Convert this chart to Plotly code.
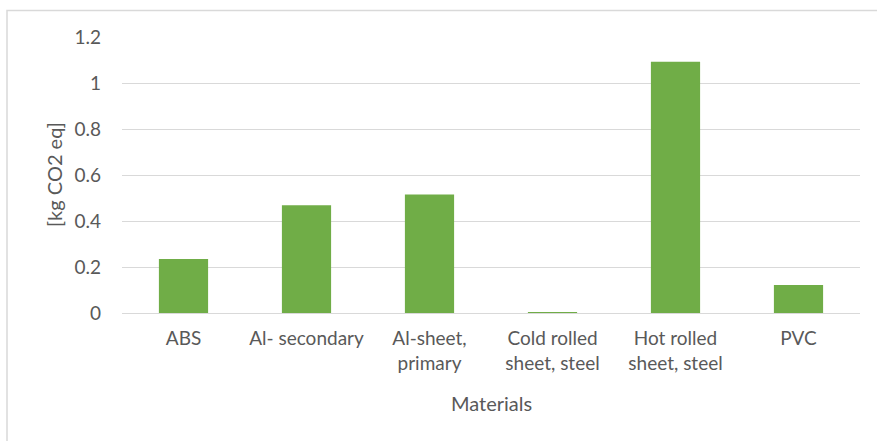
import plotly.graph_objects as go

categories = ["ABS", "Al- secondary", "Al-sheet,<br>primary", "Cold rolled<br>sheet, steel",
              "Hot rolled<br>sheet, steel", "PVC"]
values = [0.235, 0.468, 0.515, 0.004, 1.092, 0.122]
y_ticks = [0, 0.2, 0.4, 0.6, 0.8, 1, 1.2]
y_tick_labels = ["0", "0.2", "0.4", "0.6", "0.8", "1", "1.2"]

W, H = 877, 441
L, R, T, B = 122, 17, 36.5, 128
pw, ph = W - L - R, H - T - B

FONT = "Lato"
GRAY = "#595959"
FS = 19

fig = go.Figure(go.Bar(x=categories, y=values, marker_color="#70AD47",
                       marker_line_width=0))

fig.update_layout(
    width=W, height=H,
    margin=dict(l=L, r=R, t=T, b=B, autoexpand=False),
    paper_bgcolor="white", plot_bgcolor="white",
    bargap=0.6, showlegend=False,
    font=dict(family=FONT, size=FS, color=GRAY),
)
fig.update_xaxes(showgrid=False, showline=False, ticks="", tickfont=dict(size=FS, color=GRAY),
                 ticklabelstandoff=12, automargin=False)
fig.update_yaxes(range=[0, 1.2], tickvals=y_ticks, ticktext=y_tick_labels,
                 showgrid=True, gridcolor="#d9d9d9", gridwidth=1.3,
                 zeroline=True, zerolinecolor="#d9d9d9", zerolinewidth=1.3,
                 showline=False, ticks="", tickfont=dict(size=FS, color=GRAY),
                 ticklabelstandoff=20, automargin=False)

# axis titles
fig.add_annotation(text="Materials", xref="paper", yref="paper", x=0.5, y=0,
                   xanchor="center", yanchor="middle",
                   yshift=-(403 - 313), showarrow=False, font=dict(size=20, color=GRAY))
fig.add_annotation(text="[kg CO2 eq]", xref="paper", yref="paper", x=0, y=0.5,
                   xanchor="center", yanchor="middle",
                   xshift=-(122 - 54), textangle=-90, showarrow=False,
                   font=dict(size=20, color=GRAY))

# chart border
fig.add_shape(type="rect", xref="paper", yref="paper",
              x0=(7 - L) / pw, x1=(W + 5 - L) / pw,
              y0=-(B + 5) / ph, y1=(H - B - 10) / ph,
              line=dict(color="#d9d9d9", width=1.5), fillcolor="rgba(0,0,0,0)", layer="below")

fig.write_html("out.html")
